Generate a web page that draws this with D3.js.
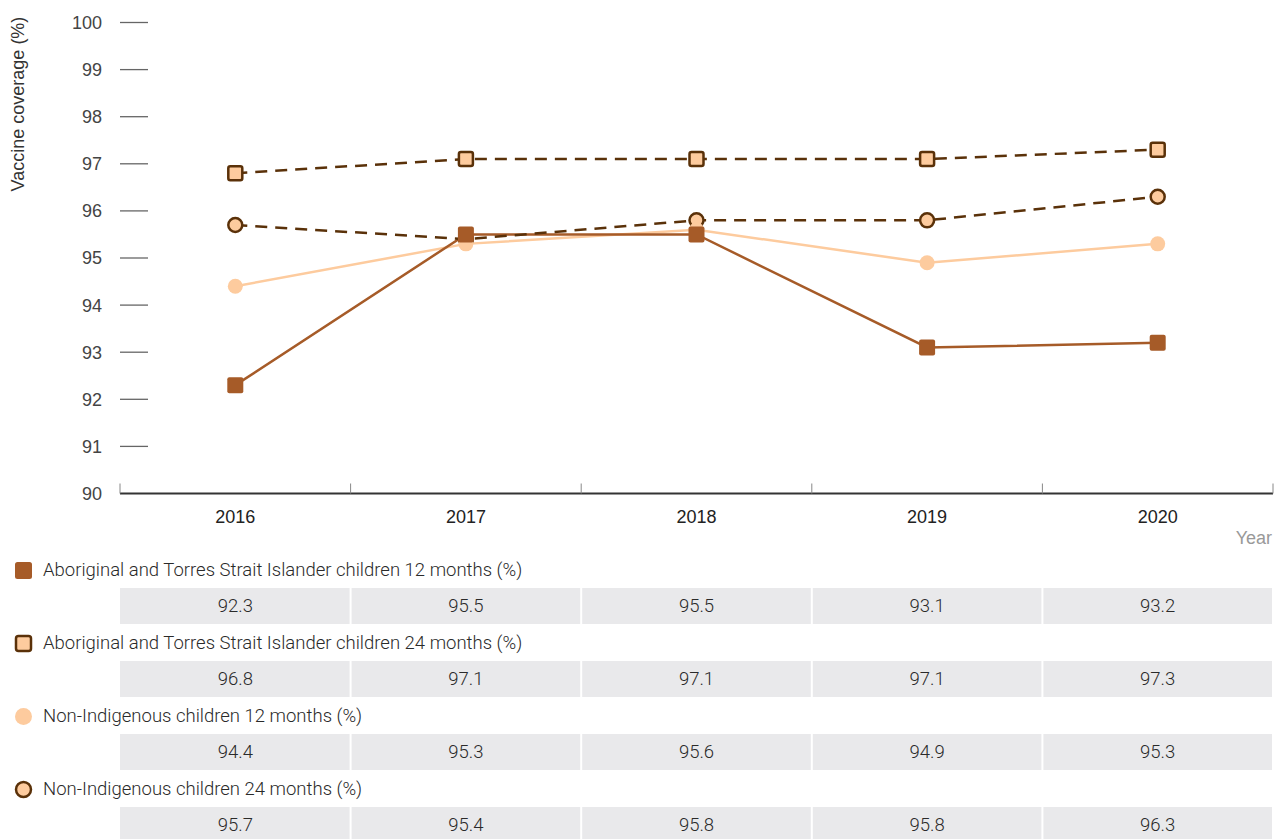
<!DOCTYPE html>
<html lang="en">
<head>
<meta charset="UTF-8">
<title>Vaccine coverage</title>
<script src="https://d3js.org/d3.v7.min.js"></script>
<style>
  body { margin: 0; background: #fff; }
  svg { display: block; }
</style>
</head>
<body>
<svg width="1280" height="839" class="chart"></svg>
<script>
var years = ['2016', '2017', '2018', '2019', '2020'];
var yTicks = [90, 91, 92, 93, 94, 95, 96, 97, 98, 99, 100];

var seriesNames = [
  'Aboriginal and Torres Strait Islander children 12 months (%)',
  'Aboriginal and Torres Strait Islander children 24 months (%)',
  'Non-Indigenous children 12 months (%)',
  'Non-Indigenous children 24 months (%)'
];
var atsi12 = [92.3, 95.5, 95.5, 93.1, 93.2];
var atsi24 = [96.8, 97.1, 97.1, 97.1, 97.3];
var nonInd12 = [94.4, 95.3, 95.6, 94.9, 95.3];
var nonInd24 = [95.7, 95.4, 95.8, 95.8, 96.3];

var dark = '#5a3109', rust = '#a65b28', peach = '#fdcb9e';

// drawing styles per series (index matches seriesNames)
var styles = [
  { values: atsi12, shape: 'square', fill: rust, stroke: 'none', line: rust, dash: null },
  { values: atsi24, shape: 'square', fill: peach, stroke: dark, line: dark, dash: '12,8' },
  { values: nonInd12, shape: 'circle', fill: peach, stroke: 'none', line: peach, dash: null },
  { values: nonInd24, shape: 'circle', fill: peach, stroke: dark, line: dark, dash: '12,8' }
];

var svg = d3.select('.chart');
var plotLeft = 120, plotRight = 1273, plotTop = 22.5, plotBottom = 493.5;
var axisFont = 'Liberation Sans, Arial, sans-serif';

var x = d3.scaleBand().domain(years).range([plotLeft, plotRight]);
var y = d3.scaleLinear().domain([90, 100]).range([plotBottom, plotTop]);

// y axis ticks
var yg = svg.append('g');
yg.selectAll('line').data(yTicks.filter(function (d) { return d > 90; })).enter()
  .append('line')
  .attr('x1', plotLeft).attr('x2', 148)
  .attr('y1', function (d) { return y(d); }).attr('y2', function (d) { return y(d); })
  .attr('stroke', '#666').attr('stroke-width', 1.3);
yg.selectAll('text').data(yTicks).enter()
  .append('text')
  .attr('x', 102).attr('y', function (d) { return y(d); })
  .attr('dy', '0.36em').attr('text-anchor', 'end')
  .attr('font-family', axisFont).attr('font-size', 18)
  .attr('fill', '#444')
  .text(function (d) { return d; });

svg.append('text')
  .attr('transform', 'translate(24,104) rotate(-90)')
  .attr('text-anchor', 'middle')
  .attr('font-family', axisFont).attr('font-size', 18)
  .attr('fill', '#333')
  .text('Vaccine coverage (%)');

// x axis
var xg = svg.append('g');
xg.append('line').attr('x1', plotLeft).attr('x2', plotRight).attr('y1', plotBottom).attr('y2', plotBottom)
  .attr('stroke', '#333').attr('stroke-width', 2.2);
var edges = years.map(function (d) { return x(d); }).concat([plotRight]);
xg.selectAll('line.tick').data(edges).enter()
  .append('line').attr('class', 'tick')
  .attr('x1', function (d) { return d; }).attr('x2', function (d) { return d; })
  .attr('y1', plotBottom - 10).attr('y2', plotBottom)
  .attr('stroke', '#888').attr('stroke-width', 1);
xg.selectAll('text').data(years).enter()
  .append('text')
  .attr('x', function (d) { return x(d) + x.bandwidth() / 2; })
  .attr('y', 523).attr('text-anchor', 'middle')
  .attr('font-family', axisFont).attr('font-size', 18)
  .attr('fill', '#222')
  .text(function (d) { return d; });
svg.append('text').attr('x', 1272).attr('y', 544).attr('text-anchor', 'end')
  .attr('font-family', axisFont).attr('font-size', 18)
  .attr('fill', '#999').text('Year');

// lines first, then markers, drawn bottom to top
var cx = function (d, i) { return x(years[i]) + x.bandwidth() / 2; };
var line = d3.line().x(cx).y(function (d) { return y(d); });
var order = [3, 2, 1, 0];
var lineLayer = svg.append('g'), markLayer = svg.append('g');
[2, 0, 3, 1].forEach(function (k) {
  var s = styles[k];
  lineLayer.append('path').datum(s.values)
    .attr('d', line).attr('fill', 'none')
    .attr('stroke', s.line).attr('stroke-width', 2.5)
    .attr('stroke-dasharray', s.dash);
});
order.forEach(function (k) {
  var s = styles[k];
  var g = markLayer.append('g');
  if (s.shape === 'square') {
    var half = s.stroke === 'none' ? 8 : 7;
    g.selectAll('rect').data(s.values).enter().append('rect')
      .attr('x', function (d, i) { return cx(d, i) - half; })
      .attr('y', function (d) { return y(d) - half; })
      .attr('width', half * 2).attr('height', half * 2).attr('rx', 2)
      .attr('fill', s.fill).attr('stroke', s.stroke).attr('stroke-width', 2.5);
  } else {
    g.selectAll('circle').data(s.values).enter().append('circle')
      .attr('cx', cx).attr('cy', function (d) { return y(d); })
      .attr('r', s.stroke === 'none' ? 7.5 : 7)
      .attr('fill', s.fill).attr('stroke', s.stroke).attr('stroke-width', 2.5);
  }
});

// legend + data table
var rowTop = 551, rowStep = 73;
styles.forEach(function (s, k) {
  var g = svg.append('g').attr('transform', 'translate(0,' + (rowTop + k * rowStep) + ')');
  if (s.shape === 'square') {
    g.append('rect').attr('x', s.stroke === 'none' ? 15 : 16).attr('y', s.stroke === 'none' ? 11 : 12)
      .attr('width', s.stroke === 'none' ? 17 : 15).attr('height', s.stroke === 'none' ? 17 : 15)
      .attr('rx', 2.5).attr('fill', s.fill)
      .attr('stroke', s.stroke).attr('stroke-width', 2.5);
  } else {
    g.append('circle').attr('cx', 23.5).attr('cy', 19.5).attr('r', s.stroke === 'none' ? 8.5 : 7.5)
      .attr('fill', s.fill).attr('stroke', s.stroke).attr('stroke-width', 2.5);
  }
  g.append('text').attr('x', 43).attr('y', 19).attr('dy', '0.35em')
    .attr('font-family', 'Roboto, sans-serif').attr('font-weight', 300)
    .attr('font-size', 18.5).attr('fill', '#2a2a2a')
    .text(seriesNames[k]);
  var cells = g.selectAll('g.cell').data(s.values).enter().append('g');
  cells.append('rect')
    .attr('x', function (d, i) { return x(years[i]) + (i === 0 ? 0 : 1); })
    .attr('y', 37)
    .attr('width', function (d, i) { return x.bandwidth() - (i === 0 ? 1 : 2); })
    .attr('height', 36).attr('fill', '#e9e9eb');
  cells.append('text')
    .attr('x', cx).attr('y', 55).attr('dy', '0.35em').attr('text-anchor', 'middle')
    .attr('font-family', 'Roboto, sans-serif').attr('font-weight', 300)
    .attr('font-size', 18.5).attr('fill', '#2a2a2a')
    .text(function (d) { return d.toFixed(1); });
});
</script>
</body>
</html>
